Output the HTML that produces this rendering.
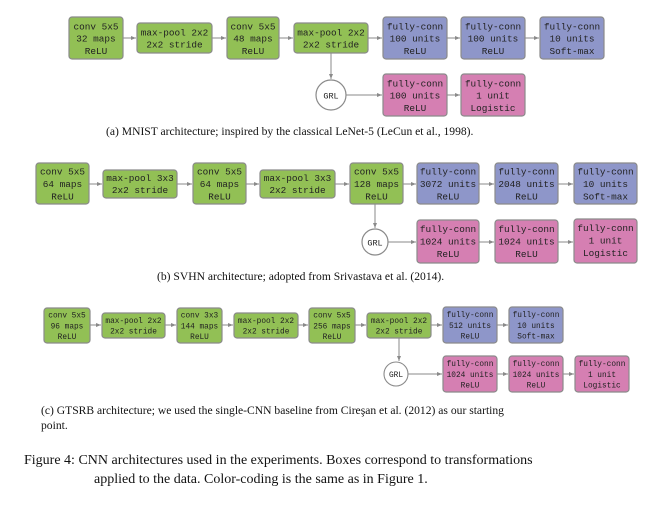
<!DOCTYPE html>
<html><head><meta charset="utf-8"><style>
html,body{margin:0;padding:0;background:#fff;}
svg{display:block}
.t{font-family:"Liberation Mono",monospace;fill:#222;text-anchor:middle}
.a{font-size:9.4px}.c{font-size:7.8px}
.g{fill:#92c055;stroke:#8a8a8a;stroke-width:1.2}
.b{fill:#8e96c9;stroke:#8a8a8a;stroke-width:1.2}
.p{fill:#d57fb2;stroke:#8a8a8a;stroke-width:1.2}
.l{stroke:#8a8a8a;stroke-width:1;fill:none;marker-end:url(#ar)}
.cap{font-family:"Liberation Serif",serif;fill:#111}
</style></head><body>
<svg width="672" height="508" viewBox="0 0 672 508" xmlns="http://www.w3.org/2000/svg">
<defs><marker id="ar" markerWidth="6" markerHeight="6" refX="5" refY="3" orient="auto" markerUnits="userSpaceOnUse"><path d="M0,1 L5,3 L0,5 z" fill="#8a8a8a"/></marker></defs>

<!-- Row a -->
<g class="t a">
<rect class="g" x="69" y="17" width="54" height="42" rx="3"/><text x="96" y="29.5">conv 5x5</text><text x="96" y="41.5">32 maps</text><text x="96" y="54">ReLU</text>
<rect class="g" x="137" y="23" width="75" height="30" rx="3"/><text x="174.5" y="35.5">max-pool 2x2</text><text x="174.5" y="47.5">2x2 stride</text>
<rect class="g" x="227" y="17" width="52" height="42" rx="3"/><text x="253" y="29.5">conv 5x5</text><text x="253" y="41.5">48 maps</text><text x="253" y="54">ReLU</text>
<rect class="g" x="294" y="23" width="74" height="30" rx="3"/><text x="331" y="35.5">max-pool 2x2</text><text x="331" y="47.5">2x2 stride</text>
<rect class="b" x="383" y="17" width="64" height="42" rx="3"/><text x="415" y="29.5">fully-conn</text><text x="415" y="41.5">100 units</text><text x="415" y="54">ReLU</text>
<rect class="b" x="461" y="17" width="64" height="42" rx="3"/><text x="493" y="29.5">fully-conn</text><text x="493" y="41.5">100 units</text><text x="493" y="54">ReLU</text>
<rect class="b" x="540" y="17" width="64" height="42" rx="3"/><text x="572" y="29.5">fully-conn</text><text x="572" y="41.5">10 units</text><text x="572" y="54">Soft-max</text>
<circle cx="331" cy="95" r="15" fill="#fff" stroke="#8a8a8a" stroke-width="1.2"/><text x="331" y="98.5" style="font-size:8.5px">GRL</text>
<rect class="p" x="383" y="74" width="64" height="42" rx="3"/><text x="415" y="86.5">fully-conn</text><text x="415" y="98.5">100 units</text><text x="415" y="111">ReLU</text>
<rect class="p" x="461" y="74" width="64" height="42" rx="3"/><text x="493" y="86.5">fully-conn</text><text x="493" y="98.5">1 unit</text><text x="493" y="111">Logistic</text>
</g>
<line class="l" x1="123" y1="38" x2="136" y2="38"/><line class="l" x1="212" y1="38" x2="226" y2="38"/><line class="l" x1="279" y1="38" x2="293" y2="38"/><line class="l" x1="368" y1="38" x2="382" y2="38"/><line class="l" x1="447" y1="38" x2="460" y2="38"/><line class="l" x1="525" y1="38" x2="539" y2="38"/>
<line class="l" x1="331" y1="53" x2="331" y2="79"/><line class="l" x1="346" y1="95" x2="382" y2="95"/><line class="l" x1="447" y1="95" x2="460" y2="95"/>
<text class="cap" x="106" y="135" style="font-size:11.6px">(a) MNIST architecture; inspired by the classical LeNet-5 (LeCun et al., 1998).</text>

<!-- Row b -->
<g class="t a">
<rect class="g" x="36" y="163" width="53" height="41" rx="3"/><text x="62.5" y="174.5">conv 5x5</text><text x="62.5" y="187">64 maps</text><text x="62.5" y="199.5">ReLU</text>
<rect class="g" x="103" y="170" width="74" height="28" rx="3"/><text x="140" y="181">max-pool 3x3</text><text x="140" y="193">2x2 stride</text>
<rect class="g" x="193" y="163" width="53" height="41" rx="3"/><text x="219.5" y="174.5">conv 5x5</text><text x="219.5" y="187">64 maps</text><text x="219.5" y="199.5">ReLU</text>
<rect class="g" x="260" y="170" width="75" height="28" rx="3"/><text x="297.5" y="181">max-pool 3x3</text><text x="297.5" y="193">2x2 stride</text>
<rect class="g" x="350" y="163" width="53" height="41" rx="3"/><text x="376.5" y="174.5">conv 5x5</text><text x="376.5" y="187">128 maps</text><text x="376.5" y="199.5">ReLU</text>
<rect class="b" x="417" y="163" width="62" height="41" rx="3"/><text x="448" y="174.5">fully-conn</text><text x="448" y="187">3072 units</text><text x="448" y="199.5">ReLU</text>
<rect class="b" x="495" y="163" width="63" height="41" rx="3"/><text x="526.5" y="174.5">fully-conn</text><text x="526.5" y="187">2048 units</text><text x="526.5" y="199.5">ReLU</text>
<rect class="b" x="574" y="163" width="63" height="41" rx="3"/><text x="605.5" y="174.5">fully-conn</text><text x="605.5" y="187">10 units</text><text x="605.5" y="199.5">Soft-max</text>
<circle cx="375" cy="242" r="13" fill="#fff" stroke="#8a8a8a" stroke-width="1.2"/><text x="375" y="245.5" style="font-size:8.5px">GRL</text>
<rect class="p" x="417" y="220" width="62" height="43" rx="3"/><text x="448" y="232">fully-conn</text><text x="448" y="244.5">1024 units</text><text x="448" y="257">ReLU</text>
<rect class="p" x="495" y="220" width="63" height="43" rx="3"/><text x="526.5" y="232">fully-conn</text><text x="526.5" y="244.5">1024 units</text><text x="526.5" y="257">ReLU</text>
<rect class="p" x="574" y="219" width="63" height="44" rx="3"/><text x="605.5" y="231">fully-conn</text><text x="605.5" y="243.5">1 unit</text><text x="605.5" y="256">Logistic</text>
</g>
<line class="l" x1="89" y1="184" x2="102" y2="184"/><line class="l" x1="177" y1="184" x2="192" y2="184"/><line class="l" x1="246" y1="184" x2="259" y2="184"/><line class="l" x1="335" y1="184" x2="349" y2="184"/><line class="l" x1="403" y1="184" x2="416" y2="184"/><line class="l" x1="479" y1="184" x2="494" y2="184"/><line class="l" x1="558" y1="184" x2="573" y2="184"/>
<line class="l" x1="375" y1="204" x2="375" y2="228"/><line class="l" x1="388" y1="242" x2="416" y2="242"/><line class="l" x1="479" y1="242" x2="494" y2="242"/><line class="l" x1="558" y1="242" x2="573" y2="242"/>
<text class="cap" x="157" y="280" style="font-size:11.6px">(b) SVHN architecture; adopted from Srivastava et al. (2014).</text>

<!-- Row c -->
<g class="t c">
<rect class="g" x="44" y="308" width="46" height="35" rx="3"/><text x="67" y="317.5">conv 5x5</text><text x="67" y="328.5">96 maps</text><text x="67" y="339">ReLU</text>
<rect class="g" x="102" y="313" width="63" height="25" rx="3"/><text x="133.5" y="323">max-pool 2x2</text><text x="133.5" y="333.5">2x2 stride</text>
<rect class="g" x="177" y="308" width="45" height="35" rx="3"/><text x="199.5" y="317.5">conv 3x3</text><text x="199.5" y="328.5">144 maps</text><text x="199.5" y="339">ReLU</text>
<rect class="g" x="234" y="313" width="64" height="25" rx="3"/><text x="266" y="323">max-pool 2x2</text><text x="266" y="333.5">2x2 stride</text>
<rect class="g" x="309" y="308" width="46" height="35" rx="3"/><text x="332" y="317.5">conv 5x5</text><text x="332" y="328.5">256 maps</text><text x="332" y="339">ReLU</text>
<rect class="g" x="367" y="313" width="64" height="25" rx="3"/><text x="399" y="323">max-pool 2x2</text><text x="399" y="333.5">2x2 stride</text>
<rect class="b" x="443" y="307" width="54" height="36" rx="3"/><text x="470" y="317">fully-conn</text><text x="470" y="328">512 units</text><text x="470" y="338.5">ReLU</text>
<rect class="b" x="509" y="307" width="54" height="36" rx="3"/><text x="536" y="317">fully-conn</text><text x="536" y="328">10 units</text><text x="536" y="338.5">Soft-max</text>
<circle cx="396" cy="374" r="12" fill="#fff" stroke="#8a8a8a" stroke-width="1.1"/><text x="396" y="377">GRL</text>
<rect class="p" x="443" y="356" width="54" height="36" rx="3"/><text x="470" y="366">fully-conn</text><text x="470" y="377">1024 units</text><text x="470" y="387.5">ReLU</text>
<rect class="p" x="509" y="356" width="54" height="36" rx="3"/><text x="536" y="366">fully-conn</text><text x="536" y="377">1024 units</text><text x="536" y="387.5">ReLU</text>
<rect class="p" x="575" y="356" width="54" height="36" rx="3"/><text x="602" y="366">fully-conn</text><text x="602" y="377">1 unit</text><text x="602" y="387.5">Logistic</text>
</g>
<line class="l" x1="90" y1="325" x2="101" y2="325"/><line class="l" x1="165" y1="325" x2="176" y2="325"/><line class="l" x1="222" y1="325" x2="233" y2="325"/><line class="l" x1="298" y1="325" x2="308" y2="325"/><line class="l" x1="355" y1="325" x2="366" y2="325"/><line class="l" x1="431" y1="325" x2="442" y2="325"/><line class="l" x1="497" y1="325" x2="508" y2="325"/>
<line class="l" x1="399" y1="338" x2="399" y2="361"/><line class="l" x1="408" y1="374" x2="442" y2="374"/><line class="l" x1="497" y1="374" x2="508" y2="374"/><line class="l" x1="563" y1="374" x2="574" y2="374"/>
<text class="cap" x="41" y="414" style="font-size:11.6px">(c) GTSRB architecture; we used the single-CNN baseline from Cireşan et al. (2012) as our starting</text>
<text class="cap" x="41" y="429" style="font-size:11.6px">point.</text>

<text class="cap" x="24" y="464" style="font-size:14px">Figure 4:  CNN architectures used in the experiments. Boxes correspond to transformations</text>
<text class="cap" x="94" y="483" style="font-size:14px">applied to the data. Color-coding is the same as in Figure 1.</text>
</svg>
</body></html>
